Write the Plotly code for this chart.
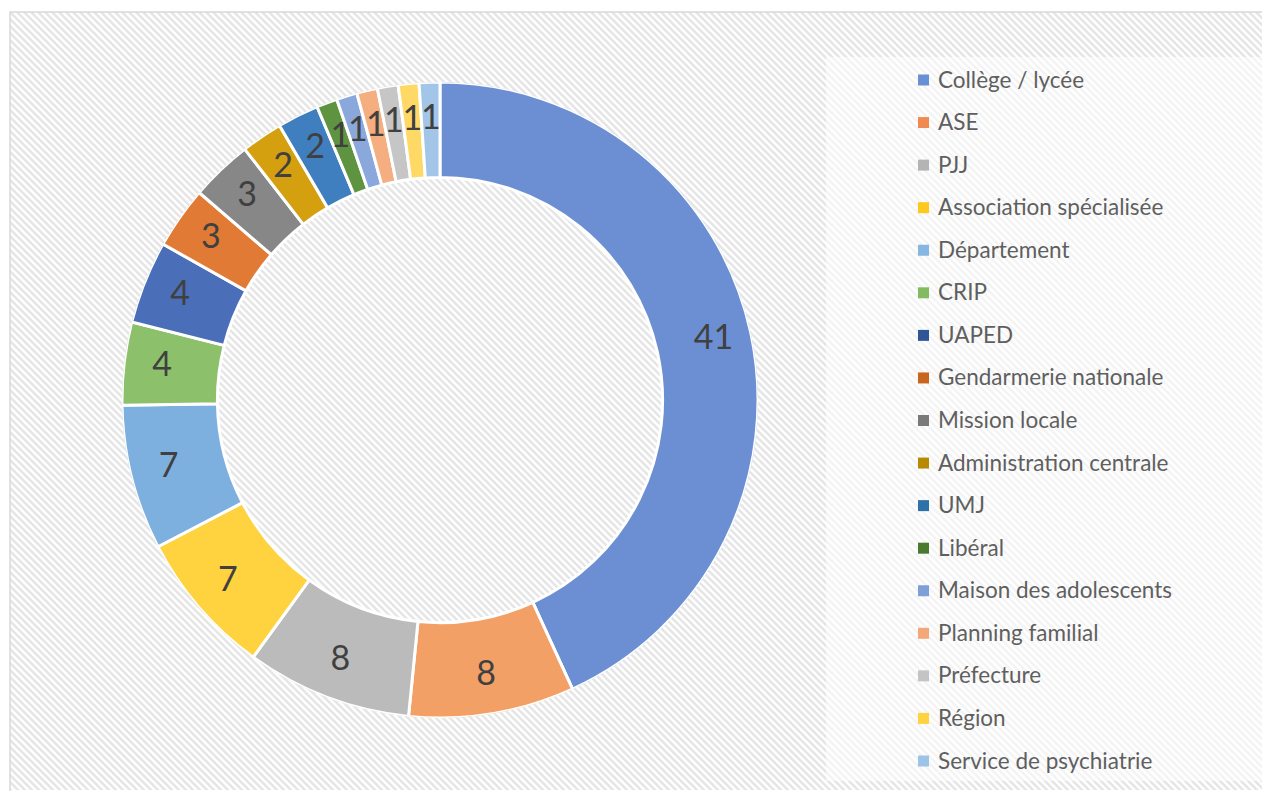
import base64
import numpy as np
import plotly.graph_objects as go

# ---------------- data ----------------
labels = [
    "Collège / lycée", "ASE", "PJJ", "Association spécialisée", "Département",
    "CRIP", "UAPED", "Gendarmerie nationale", "Mission locale",
    "Administration centrale", "UMJ", "Libéral", "Maison des adolescents",
    "Planning familial", "Préfecture", "Région", "Service de psychiatrie",
]
values = [41, 8, 8, 7, 7, 4, 4, 3, 3, 2, 2, 1, 1, 1, 1, 1, 1]
colors = [
    "#6b8fd2", "#f2a066", "#bbbbbb", "#ffd23f", "#7eb0df",
    "#8cc06a", "#4a6fb8", "#e07a35", "#878787",
    "#d4a010", "#3f7fbf", "#5e9440", "#8ba8dc",
    "#f4ae80", "#c6c6c6", "#ffd966", "#a3c6e8",
]
legend_colors = [
    "#6a8fd4", "#f08a50", "#b4b4b4", "#ffc81c", "#86b6e2",
    "#84bb60", "#2f5597", "#c8651e", "#7a7a7a",
    "#b88a00", "#2e70aa", "#4a7a30", "#7f9fd8",
    "#f4a878", "#c4c4c4", "#ffd33f", "#9dc3e6",
]

W, H = 1262, 791

# ------------- geometry helpers -------------
vals = np.array(values, dtype=float)
total = vals.sum()
spans = vals / total * 360.0
starts = np.concatenate([[0.0], np.cumsum(spans)[:-1]])
mids = starts + spans / 2.0

cx, cy, R = 440, 400, 318
hole = 0.70

fig = go.Figure()

fig.add_trace(go.Barpolar(
    theta=mids, width=spans, r=[1 - hole] * len(values), base=hole,
    marker=dict(color=colors, line=dict(color="white", width=3)),
    text=labels, hoverinfo="text+r", showlegend=False,
))
fig.add_trace(go.Scatterpolar(
    theta=mids, r=[0.88] * len(values), mode="text",
    text=[str(v) for v in values],
    textfont=dict(family="Lato", size=34, color="#404040"),
    hoverinfo="skip", showlegend=False,
))

fig.update_layout(
    width=W, height=H,
    margin=dict(l=0, r=0, t=0, b=0),
    paper_bgcolor="white",
    polar=dict(
        domain=dict(x=[(cx - R) / W, (cx + R) / W], y=[1 - (cy + R) / H, 1 - (cy - R) / H]),
        bgcolor="rgba(0,0,0,0)",
        radialaxis=dict(range=[0, 1], visible=False),
        angularaxis=dict(rotation=90, direction="clockwise", visible=False),
        bargap=0,
    ),
    showlegend=False,
)

# ------------- hatched background -------------
bx0, by0, bx1, by1 = 10, 12, 1262, 790
bw, bh = bx1 - bx0, by1 - by0
P = 7
svg = f'''<svg xmlns="http://www.w3.org/2000/svg" width="{bw}" height="{bh}">
<defs><pattern id="p" width="{P}" height="{P}" patternUnits="userSpaceOnUse">
<rect width="{P}" height="{P}" fill="#ffffff"/>
<path d="M0,0 L{P},{P} M-{P},0 L{P},{2*P} M0,-{P} L{2*P},{P}" stroke="#e6e6e6" stroke-width="2.6"/>
</pattern></defs>
<rect width="{bw}" height="{bh}" fill="url(#p)"/>
</svg>'''
src = "data:image/svg+xml;base64," + base64.b64encode(svg.encode()).decode()
fig.add_layout_image(dict(
    source=src, xref="paper", yref="paper",
    x=bx0 / W, y=1 - by0 / H, sizex=bw / W, sizey=bh / H,
    xanchor="left", yanchor="top", sizing="stretch", layer="below",
))
# chart border
fig.add_shape(type="rect", xref="paper", yref="paper",
              x0=bx0 / W, x1=(bx1 + 2) / W, y0=1 - (by1 + 2) / H, y1=1 - by0 / H,
              line=dict(color="#d9d9d9", width=1.5), fillcolor="rgba(0,0,0,0)", layer="above")

# legend box
lx0, ly0, lx1, ly1 = 826, 57, 1262, 781
fig.add_shape(type="rect", xref="paper", yref="paper",
              x0=lx0 / W, x1=lx1 / W, y0=1 - ly1 / H, y1=1 - ly0 / H,
              line=dict(width=0), fillcolor="rgba(255,255,255,0.55)", layer="below")

# legend entries
row0, row_step = 79, (760 - 79) / 16
for i, (lab, col) in enumerate(zip(labels, legend_colors)):
    yc = row0 + i * row_step
    fig.add_shape(type="rect", xref="paper", yref="paper",
                  x0=918 / W, x1=929 / W, y0=1 - (yc + 6.5) / H, y1=1 - (yc - 4.5) / H,
                  line=dict(width=0), fillcolor=col, layer="above")
    fig.add_annotation(x=936 / W, y=1 - yc / H, xref="paper", yref="paper",
                       text=lab, showarrow=False, xanchor="left", yanchor="middle",
                       font=dict(family="Lato", size=22.5, color="#5f5f5f"))

fig.write_html("out.html",
               config={"displayModeBar": False},
               post_script="document.body.style.margin='0';document.body.style.overflow='hidden';")
